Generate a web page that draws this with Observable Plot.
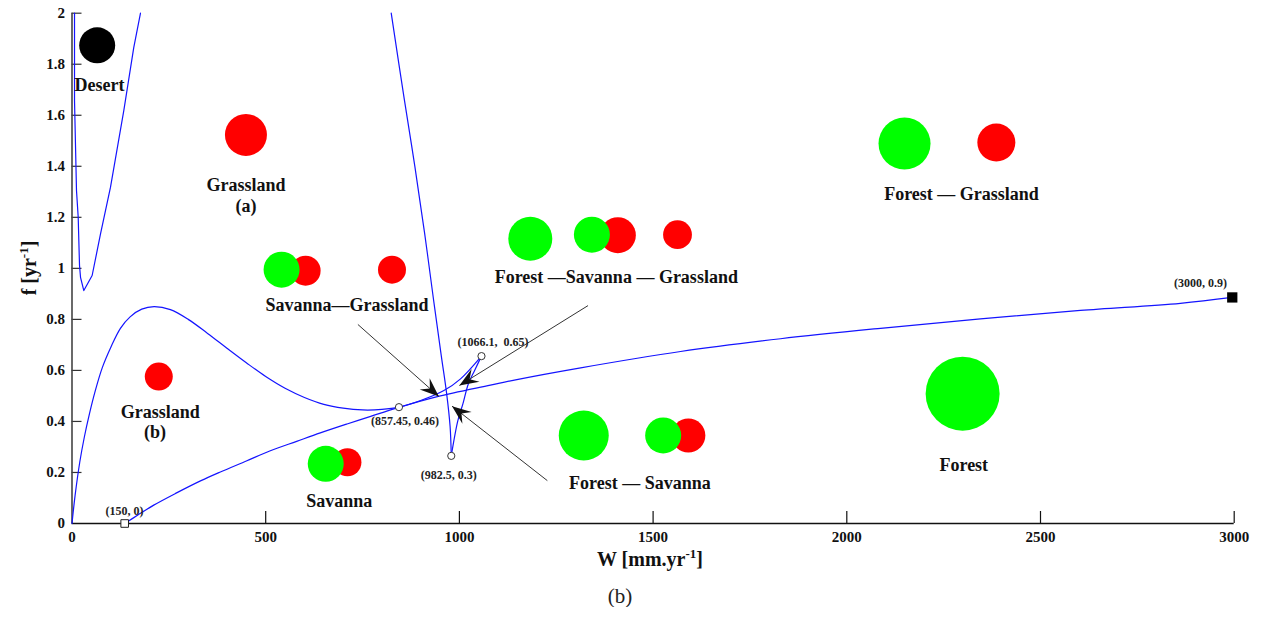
<!DOCTYPE html>
<html><head><meta charset="utf-8">
<script src="https://cdn.jsdelivr.net/npm/d3@7"></script>
<script src="https://cdn.jsdelivr.net/npm/@observablehq/plot@0.6"></script>
<style>
body{margin:0;background:#fff;}
#caption{font-family:"Liberation Serif",serif;font-size:21px;width:1240px;text-align:center;margin-top:5px;line-height:22px;color:#222}
</style></head><body>
<div id="chart"></div>
<div id="caption">(b)</div>
<script>
// ---------- tick labels ----------
const xTicks = [0, 500, 1000, 1500, 2000, 2500, 3000];
const yTicks = [0, 0.2, 0.4, 0.6, 0.8, 1, 1.2, 1.4, 1.6, 1.8, 2];

// ---------- boundary curves (W [mm/yr], f [1/yr]) ----------
const desertW = [6.5, 6.5, 11.6, 16, 19.4, 22, 30.5, 52, 73.6, 99.4, 133.7, 159.5, 176.8];
const desertF = [2.0, 1.657, 1.305, 1.2, 1.011, 0.965, 0.913, 0.972, 1.135, 1.318, 1.618, 1.866, 2.0];

const humpW = [0, 8, 20, 32, 45, 60, 78, 100, 125, 150, 180, 212, 254, 300, 350, 400, 450, 500, 550, 600, 650, 700, 750, 800, 844, 900, 960, 1003, 1057];
const humpF = [0, 0.11, 0.24, 0.34, 0.43, 0.52, 0.61, 0.69, 0.765, 0.81, 0.84, 0.85, 0.838, 0.8, 0.745, 0.687, 0.63, 0.576, 0.53, 0.494, 0.467, 0.452, 0.445, 0.447, 0.456, 0.482, 0.521, 0.567, 0.656];

const foldW = [1057, 1039, 1023, 1009, 996, 979];
const foldF = [0.656, 0.599, 0.547, 0.469, 0.403, 0.265];

const steepW = [824, 858, 885, 910, 933, 953, 967, 976, 979];
const steepF = [2.0, 1.66, 1.40, 1.14, 0.88, 0.66, 0.51, 0.38, 0.265];

const lowerW = [136, 170, 211, 270, 333, 383, 450, 512, 580, 641, 710, 771, 844, 943, 1080, 1145, 1313, 1571, 1829, 2087, 2345, 2603, 2861, 2995];
const lowerF = [0, 0.033, 0.072, 0.12, 0.168, 0.202, 0.245, 0.285, 0.322, 0.355, 0.39, 0.42, 0.455, 0.497, 0.542, 0.563, 0.61, 0.674, 0.724, 0.765, 0.802, 0.835, 0.863, 0.886];

// ---------- special points ----------
const circleW = [844, 979, 1057];
const circleF = [0.456, 0.265, 0.656];
const openSquareW = [136];
const openSquareF = [0];
const fullSquareW = [2995];
const fullSquareF = [0.886];

// ---------- vegetation state bubbles ----------
const bubbleW = [65, 449, 603, 541, 826, 1183, 1409, 1342, 1563, 2149, 2386, 224, 711, 655, 1321, 1591, 1526, 2299];
const bubbleF = [1.874, 1.523, 0.991, 0.995, 0.995, 1.116, 1.13, 1.132, 1.132, 1.489, 1.493, 0.576, 0.240, 0.234, 0.345, 0.345, 0.345, 0.509];
const bubbleCover = ["bare","grass","grass","tree","grass","tree","grass","tree","grass","tree","grass","grass","grass","tree","tree","grass","tree","tree"];
const bubbleSize = [0.45, 0.525, 0.375, 0.45, 0.35, 0.55, 0.45, 0.45, 0.36, 0.65, 0.475, 0.35, 0.35, 0.45, 0.625, 0.425, 0.45, 0.925];

// ---------- region labels ----------
const regionText = ["Desert", "Grassland", "(a)", "Savanna\u2014Grassland", "Forest \u2014Savanna \u2014 Grassland", "Forest \u2014 Grassland", "Grassland", "(b)", "Savanna", "Forest \u2014 Savanna", "Forest"];
const regionW = [71, 449, 449, 710, 1405, 2296, 228, 214, 690, 1466, 2302];
const regionF = [1.697, 1.302, 1.219, 0.831, 0.944, 1.266, 0.414, 0.337, 0.063, 0.137, 0.204];

// ---------- point labels ----------
const pointText = ["(150, 0)", "(857.45, 0.46)", "(982.5, 0.3)", "(1066.1,  0.65)", "(3000, 0.9)"];
const pointW = [135.5, 859.6, 972.4, 1087, 2913];
const pointF = [0.035, 0.387, 0.175, 0.695, 0.926];

// ---------- pointer arrows ----------
const arrowFromW = [738, 1332, 1227];
const arrowFromF = [0.780, 0.854, 0.168];
const arrowToW = [947, 1000, 981];
const arrowToF = [0.498, 0.541, 0.460];

// ---------- layout ----------
const W = 1267, H = 580, mL = 71.5, mR = 33.3, mT = 12.7, mB = 57;
const plotW = W - mL - mR, plotH = H - mT - mB;
const sx = Plot.scale({x: {domain: [0, 3000], range: [mL, W - mR]}});
const sy = Plot.scale({y: {domain: [0, 2], range: [H - mB, mT]}});
const arrowAngle = arrowToW.map((d, i) => {
  const dx = sx.apply(arrowToW[i]) - sx.apply(arrowFromW[i]);
  const dy = sy.apply(arrowToF[i]) - sy.apply(arrowFromF[i]);
  return Math.atan2(dx, -dy) * 180 / Math.PI;
});
const arrowHead = {draw(ctx) { const L = 19, w = 7.5, n = 12;
  ctx.moveTo(0, 0); ctx.lineTo(w, L); ctx.lineTo(0, n); ctx.lineTo(-w, L); ctx.closePath(); }};

const blue = "#1414ff";
const idx = a => a.map((_, i) => i);
const isGreen = bubbleCover.map(c => c === "tree");

const chart = Plot.plot({
  width: W, height: H,
  marginLeft: mL, marginRight: mR, marginTop: mT, marginBottom: mB,
  x: {domain: [0, 3000], label: null},
  y: {domain: [0, 2], label: null},
  r: {type: "linear", domain: [0, 1], range: [0, 40]},
  color: {domain: ["bare", "grass", "tree"], range: ["#000000", "#ff0000", "#00ff00"]},
  style: {fontFamily: "'Liberation Serif', 'Times New Roman', serif", background: "white"},
  marks: [
    Plot.axisX(xTicks, {tickSize: 0, tickPadding: 8, fontSize: 15, fontWeight: "bold", fill: "#111", label: null, tickFormat: d => String(d)}),
    Plot.axisY(yTicks, {tickSize: 0, tickPadding: 7, fontSize: 15, fontWeight: "bold", fill: "#111", label: null, tickFormat: d => String(d)}),
    Plot.tickX(xTicks.slice(1), {x: d => d, insetTop: plotH - 12, stroke: "#111", strokeWidth: 1.2}),
    Plot.tickY(yTicks.slice(1), {y: d => d, insetRight: plotW - 10, stroke: "#333", strokeWidth: 1.2}),
    Plot.ruleX([0], {stroke: "#444", strokeWidth: 1.6}),
    Plot.ruleY([0], {stroke: "#111", strokeWidth: 1.6}),
    // bubbles: red/black first, green on top
    Plot.dot(idx(bubbleW).filter(i => !isGreen[i]), {x: i => bubbleW[i], y: i => bubbleF[i], r: i => bubbleSize[i], fill: i => bubbleCover[i], stroke: "none"}),
    Plot.dot(idx(bubbleW).filter(i => isGreen[i]), {x: i => bubbleW[i], y: i => bubbleF[i], r: i => bubbleSize[i], fill: i => bubbleCover[i], stroke: "none"}),
    // curves
    Plot.line(desertF, {x: desertW, y: desertF, stroke: blue, strokeWidth: 1.2}),
    Plot.line(humpF, {x: humpW, y: humpF, stroke: blue, strokeWidth: 1.2, curve: "catmull-rom"}),
    Plot.line(foldF, {x: foldW, y: foldF, stroke: blue, strokeWidth: 1.2, curve: "catmull-rom"}),
    Plot.line(steepF, {x: steepW, y: steepF, stroke: blue, strokeWidth: 1.2, curve: "catmull-rom"}),
    Plot.line(lowerF, {x: lowerW, y: lowerF, stroke: blue, strokeWidth: 1.2, curve: "catmull-rom"}),
    // pointer arrows
    Plot.link(arrowFromW, {x1: arrowFromW, y1: arrowFromF, x2: arrowToW, y2: arrowToF, stroke: "#333", strokeWidth: 1}),
    Plot.dot(arrowToW, {x: arrowToW, y: arrowToF, rotate: arrowAngle, symbol: arrowHead, r: 5, fill: "#111", stroke: "none"}),
    // special points
    Plot.dot(circleW, {x: circleW, y: circleF, r: 3.6, fill: "white", stroke: "#333", strokeWidth: 1}),
    Plot.dot(openSquareW, {x: openSquareW, y: openSquareF, symbol: "square", r: 4.3, fill: "white", stroke: "#222", strokeWidth: 1}),
    Plot.dot(fullSquareW, {x: fullSquareW, y: fullSquareF, symbol: "square", r: 5.8, fill: "#000", stroke: "none"}),
    // labels
    Plot.text(regionText, {x: regionW, y: regionF, text: regionText, lineAnchor: "bottom", textAnchor: "middle", fontSize: 18, fontWeight: "bold", fill: "#111"}),
    Plot.text(pointText, {x: pointW, y: pointF, text: pointText, lineAnchor: "bottom", textAnchor: "middle", fontSize: 12, fontWeight: "bold", fill: "#222"})
  ]
});
document.getElementById("chart").appendChild(chart);

// axis titles with superscripts
const svg = d3.select(chart);
const font = "'Liberation Serif', 'Times New Roman', serif";
const xl = svg.append("text").attr("x", 650).attr("y", 566).attr("text-anchor", "middle")
  .attr("font-family", font).attr("font-size", 20).attr("font-weight", "bold").attr("fill", "#111");
xl.append("tspan").text("W [mm.yr");
xl.append("tspan").attr("dy", -8).attr("font-size", 13).text("-1");
xl.append("tspan").attr("dy", 8).text("]");
const yl = svg.append("text").attr("transform", "translate(36,268) rotate(-90)").attr("text-anchor", "middle")
  .attr("font-family", font).attr("font-size", 20).attr("font-weight", "bold").attr("fill", "#111");
yl.append("tspan").text("f [yr");
yl.append("tspan").attr("dy", -8).attr("font-size", 13).text("-1");
yl.append("tspan").attr("dy", 8).text("]");
</script></body></html>
